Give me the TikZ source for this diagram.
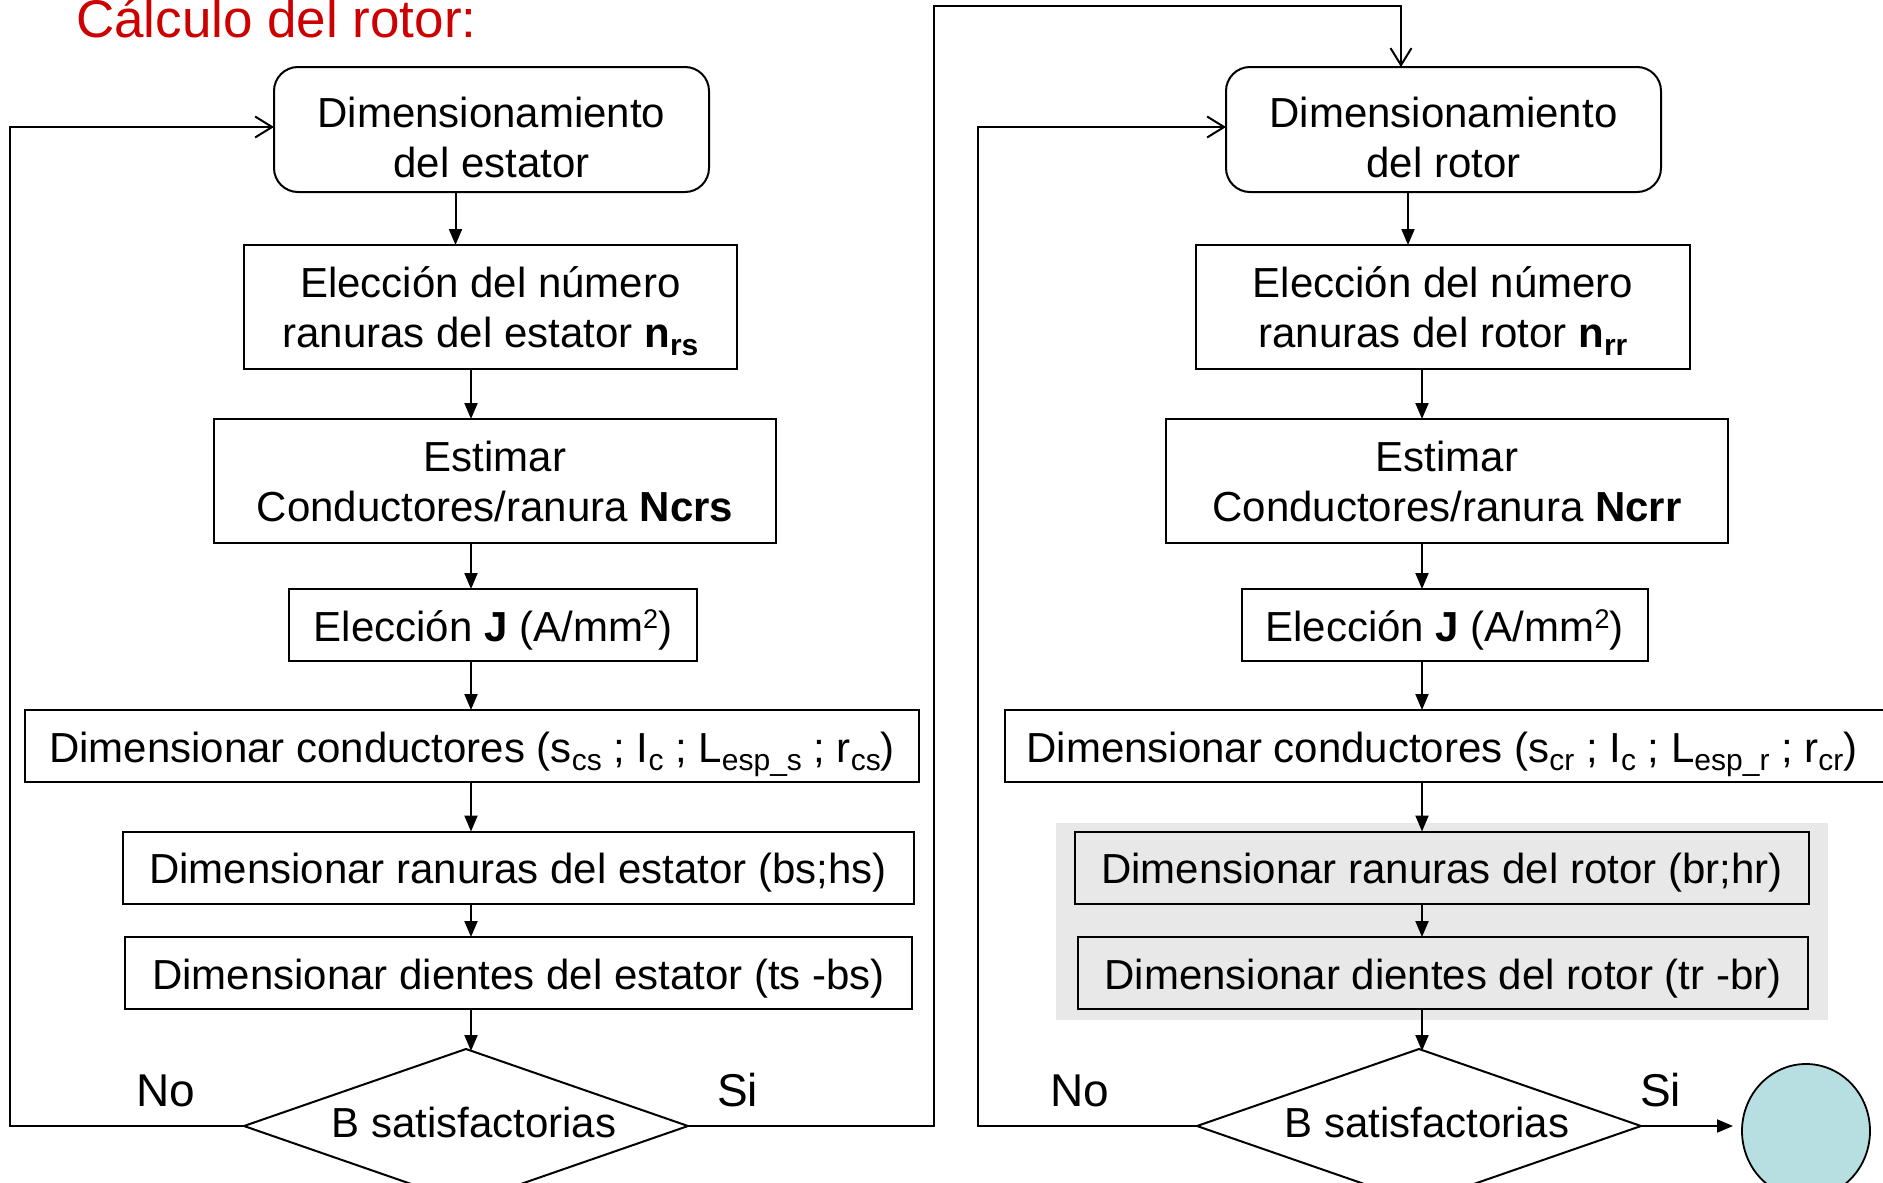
\documentclass[tikz,border=0pt]{standalone}
\usepackage{fontspec}
\setmainfont{Liberation Sans}
\usetikzlibrary{shapes.geometric,arrows.meta,calc}
\definecolor{titlered}{RGB}{204,0,0}
\definecolor{zonegray}{RGB}{232,232,232}
\definecolor{endfill}{RGB}{183,222,224}
% lowered / raised small text for indices and exponents
\newcommand\lowtx[1]{\raisebox{-8pt}{\fontsize{30}{30}\selectfont #1}}
\newcommand\hightx[1]{\raisebox{13pt}{\fontsize{27}{27}\selectfont #1}}
\begin{document}
\begin{tikzpicture}[x=1pt,y=-1pt,
  every node/.style={inner sep=0pt,outer sep=0pt,align=center,
    font=\fontsize{42}{50}\selectfont},
  box/.style={draw,line width=2pt,rectangle,anchor=center},
  rbox/.style={box,rounded corners=24pt},
  oneline/.style={text height=32pt,text depth=0pt},
  twoline/.style={text height=96pt,text depth=0pt},
  twoplain/.style={text height=80pt,text depth=0pt},
  test/.style={draw,diamond,line width=2pt,aspect=2.9,
    minimum width=444pt,minimum height=154pt,text height=22pt,text depth=0pt},
  flow/.style={line width=2pt,-{Triangle[length=16pt,width=13pt]}},
  back/.style={line width=2pt,-{Straight Barb[length=17pt,width=21pt]}},
  tag/.style={anchor=base west,font=\fontsize{46}{50}\selectfont}]
\useasboundingbox (0,0) rectangle (1883,1183);
\clip (0,0) rectangle (1883,1183);

% title
\node[anchor=base west,text=titlered,font=\fontsize{53}{60}\selectfont]
  (title) at (76,37) {Cálculo del rotor:};

% axes of the two columns and corners of the return lines
\coordinate (axL1) at (455.5,0);
\coordinate (axL)  at (471,0);
\coordinate (axRin) at (1401,0);
\coordinate (axR1) at (1408,0);
\coordinate (axR)  at (1422,0);
\coordinate (loopL) at (10,127);
\coordinate (loopR) at (978,127);
\coordinate (topR) at (934,6);

% ---------------- stator column ----------------
\node[rbox,twoline,minimum width=435pt,minimum height=125pt] (b1) at (491.5,129.5)
  {Dimensionamiento\\del estator};
\node[box,twoplain,minimum width=493pt,minimum height=124pt] (b2) at (490.5,307)
  {Elección del número\\ranuras del estator \textbf{n}\lowtx{\textbf{rs}}};
\node[box,twoplain,minimum width=562pt,minimum height=124pt] (b3) at (495,481)
  {Estimar\\Conductores/ranura \textbf{Ncrs}};
\node[box,oneline,minimum width=408pt,minimum height=72pt] (b4) at (493,625)
  {Elección \textbf{J} (A/mm\hightx{2})};
\node[box,oneline,minimum width=894pt,minimum height=72pt] (b5) at (472,746)
  {Dimensionar conductores (s\lowtx{cs} ; I\lowtx{c} ; L\lowtx{esp\_s} ; r\lowtx{cs})};
\node[box,oneline,minimum width=791pt,minimum height=72pt] (b6) at (518,867.5)
  {Dimensionar ranuras del estator (bs;hs)};
\node[box,oneline,minimum width=787pt,minimum height=72pt] (b7) at (518.5,973)
  {Dimensionar dientes del estator (ts -bs)};
\node[test] (d1) at (466,1126) {\hspace*{16pt}B satisfactorias};

\draw[flow] (b1.south -| axL1) -- (b2.north -| axL1);
\draw[flow] (b2.south -| axL) -- (b3.north -| axL);
\draw[flow] (b3.south -| axL) -- (b4.north -| axL);
\draw[flow] (b4.south -| axL) -- (b5.north -| axL);
\draw[flow] (b5.south -| axL) -- (b6.north -| axL);
\draw[flow] (b6.south -| axL) -- (b7.north -| axL);
\draw[flow] (b7.south -| axL) -- ([yshift=-2pt]d1.north -| axL);

\draw[back] (d1.west) -| (loopL) -- (loopL -| b1.west);

\node[tag] (noL) at (136,1106) {No};
\node[tag] (siL) at (717,1106) {Si};

% ---------------- rotor column ----------------
\fill[zonegray] (1056,823) rectangle (1828,1020);

\node[rbox,twoline,minimum width=435pt,minimum height=125pt] (r1) at (1443.5,129.5)
  {Dimensionamiento\\del rotor};
\node[box,twoplain,minimum width=494pt,minimum height=124pt] (r2) at (1443,307)
  {Elección del número\\ranuras del rotor \textbf{n}\lowtx{\textbf{rr}}};
\node[box,twoplain,minimum width=562pt,minimum height=124pt] (r3) at (1447,481)
  {Estimar\\Conductores/ranura \textbf{Ncrr}};
\node[box,oneline,minimum width=406pt,minimum height=72pt] (r4) at (1444.5,625)
  {Elección \textbf{J} (A/mm\hightx{2})};
\node[box,minimum width=910pt,minimum height=72pt,anchor=west] (r5) at (1005,746) {};
\node[oneline] (r5t) at (1442,746)
  {Dimensionar conductores (s\lowtx{cr} ; I\lowtx{c} ; L\lowtx{esp\_r} ; r\lowtx{cr})};
\node[box,oneline,minimum width=734pt,minimum height=72pt] (r6) at (1442,867.5)
  {Dimensionar ranuras del rotor (br;hr)};
\node[box,oneline,minimum width=730pt,minimum height=72pt] (r7) at (1443,973)
  {Dimensionar dientes del rotor (tr -br)};
\node[test] (d2) at (1419,1126) {\hspace*{16pt}B satisfactorias};
\node[draw,ellipse,fill=endfill,line width=1.8pt,minimum width=128pt,
  minimum height=134pt] (endc) at (1806,1131) {};

% stator "Si" branch into the rotor column
\draw[back] (d1.east) -| (topR) -| (r1.north -| axRin);

\draw[flow] (r1.south -| axR1) -- (r2.north -| axR1);
\draw[flow] (r2.south -| axR) -- (r3.north -| axR);
\draw[flow] (r3.south -| axR) -- (r4.north -| axR);
\draw[flow] (r4.south -| axR) -- (r5.north -| axR);
\draw[flow] (r5.south -| axR) -- (r6.north -| axR);
\draw[flow] (r6.south -| axR) -- (r7.north -| axR);
\draw[flow] (r7.south -| axR) -- ([yshift=-2pt]d2.north -| axR);

\draw[back] (d2.west) -| (loopR) -- (loopR -| r1.west);
\draw[flow] (d2.east) -- ([xshift=-9pt]endc.west |- d2.east);

\node[tag] (noR) at (1050,1106) {No};
\node[tag] (siR) at (1640,1106) {Si};
\end{tikzpicture}
\end{document}
